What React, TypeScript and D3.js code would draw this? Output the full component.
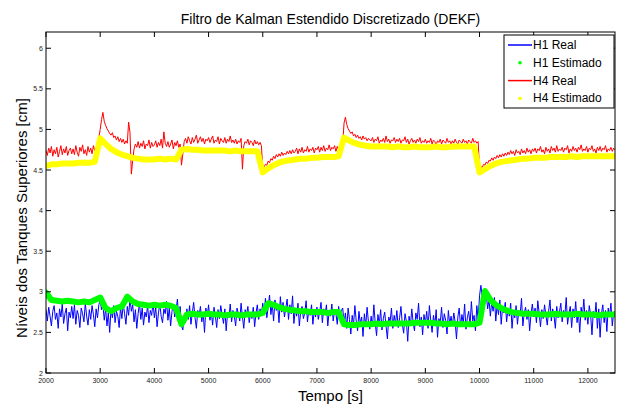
import React from "react";
import * as d3 from "d3";

// time axis: samples start at 2000 s
const T0 = 2000;
const realStep = 25;
const estStep = 100;

// H1 real level, one reading every 25 s
const h1Real = [
  2.78, 2.64, 2.81, 2.70, 2.58, 2.76, 2.83, 2.66, 2.74, 2.55, 2.79, 2.69, 2.85, 2.61, 2.73, 2.80, 2.52, 2.75, 2.68, 2.82,
  2.67, 2.84, 2.60, 2.77, 2.71, 2.56, 2.80, 2.73, 2.63, 2.86, 2.70, 2.59, 2.78, 2.66, 2.83, 2.72, 2.57, 2.79, 2.68, 2.84,
  2.90, 2.78, 2.84, 2.65, 2.80, 2.58, 2.74, 2.50, 2.79, 2.68, 2.83, 2.62, 2.76, 2.70, 2.56, 2.81, 2.67, 2.85, 2.73, 2.60,
  2.82, 2.71, 2.92, 2.76, 2.84, 2.63, 2.78, 2.55, 2.73, 2.86, 2.66, 2.80, 2.59, 2.75, 2.69, 2.83, 2.62, 2.77, 2.71, 2.87,
  2.68, 2.81, 2.57, 2.74, 2.85, 2.70, 2.62, 2.79, 2.73, 2.88, 2.65, 2.80, 2.58, 2.76, 2.84, 2.69, 2.77, 2.91, 2.64, 2.82,
  2.58, 2.53, 2.70, 2.62, 2.79, 2.66, 2.83, 2.60, 2.74, 2.87, 2.68, 2.55, 2.77, 2.71, 2.82, 2.63, 2.75, 2.50, 2.80, 2.69,
  2.84, 2.65, 2.76, 2.59, 2.81, 2.70, 2.56, 2.78, 2.67, 2.83, 2.72, 2.61, 2.79, 2.52, 2.74, 2.68, 2.85, 2.63, 2.77, 2.70,
  2.58, 2.80, 2.73, 2.64, 2.86, 2.69, 2.55, 2.78, 2.71, 2.82, 2.62, 2.75, 2.67, 2.81, 2.57, 2.74, 2.84, 2.66, 2.79, 2.72,
  2.86, 2.74, 2.92, 2.68, 2.81, 2.96, 2.72, 2.85, 2.64, 2.90, 2.77, 2.83, 2.62, 2.94, 2.75, 2.87, 2.69, 2.80, 2.91, 2.66,
  2.84, 2.73, 2.95, 2.61, 2.79, 2.70, 2.86, 2.58, 2.76, 2.82, 2.67, 2.74, 2.89, 2.63, 2.78, 2.71, 2.84, 2.60, 2.77, 2.69,
  2.81, 2.66, 2.75, 2.87, 2.62, 2.79, 2.72, 2.84, 2.58, 2.76, 2.70, 2.85, 2.64, 2.78, 2.73, 2.60, 2.82, 2.69, 2.77, 2.80,
  2.62, 2.74, 2.55, 2.80, 2.66, 2.48, 2.71, 2.59, 2.83, 2.64, 2.52, 2.76, 2.61, 2.69, 2.45, 2.73, 2.58, 2.81, 2.63, 2.54,
  2.70, 2.57, 2.84, 2.62, 2.46, 2.72, 2.60, 2.78, 2.53, 2.67, 2.75, 2.58, 2.42, 2.69, 2.63, 2.80, 2.55, 2.71, 2.61, 2.77,
  2.56, 2.68, 2.82, 2.60, 2.49, 2.73, 2.64, 2.39, 2.70, 2.58, 2.79, 2.62, 2.52, 2.74, 2.66, 2.86, 2.57, 2.69, 2.47, 2.72,
  2.61, 2.76, 2.55, 2.83, 2.64, 2.50, 2.71, 2.59, 2.78, 2.44, 2.67, 2.62, 2.81, 2.56, 2.73, 2.65, 2.48, 2.77, 2.60, 2.70,
  2.58, 2.74, 2.63, 2.42, 2.69, 2.80, 2.57, 2.72, 2.61, 2.85, 2.54, 2.68, 2.76, 2.59, 2.88, 2.64, 2.71, 2.52, 2.83, 2.66,
  2.95, 3.08, 2.94, 3.02, 2.86, 2.97, 2.79, 2.91, 2.70, 2.88, 2.76, 2.93, 2.64, 2.84, 2.72, 2.90, 2.60, 2.81, 2.74, 2.87,
  2.63, 2.79, 2.70, 2.86, 2.55, 2.75, 2.68, 2.83, 2.60, 2.77, 2.72, 2.92, 2.58, 2.74, 2.81, 2.66, 2.78, 2.52, 2.73, 2.85,
  2.69, 2.80, 2.62, 2.89, 2.74, 2.57, 2.78, 2.67, 2.84, 2.71, 2.59, 2.76, 2.90, 2.64, 2.79, 2.70, 2.55, 2.82, 2.68, 2.75,
  2.86, 2.63, 2.77, 2.71, 2.93, 2.60, 2.74, 2.82, 2.56, 2.79, 2.68, 2.88, 2.62, 2.75, 2.50, 2.81, 2.70, 2.91, 2.65, 2.77,
  2.60, 2.83, 2.72, 2.47, 2.76, 2.68, 2.87, 2.55, 2.79, 2.44, 2.73, 2.84, 2.62, 2.77, 2.51, 2.80, 2.69, 2.86, 2.58, 2.74,
  2.76,
];

// H1 estimate, every 100 s
const h1Est = [
  2.99, 2.90, 2.89, 2.88, 2.89, 2.88, 2.87, 2.88, 2.87, 2.90,
  2.93, 2.80, 2.76, 2.80, 2.82, 2.94, 2.88, 2.85, 2.84, 2.83,
  2.84, 2.83, 2.84, 2.83, 2.80, 2.60, 2.72, 2.73, 2.72, 2.72,
  2.73, 2.72, 2.72, 2.71, 2.72, 2.72, 2.71, 2.72, 2.72, 2.72,
  2.74, 2.86, 2.84, 2.81, 2.79, 2.78, 2.77, 2.76, 2.76, 2.75,
  2.75, 2.75, 2.74, 2.75, 2.75, 2.60, 2.59, 2.59, 2.60, 2.60,
  2.60, 2.61, 2.60, 2.61, 2.61, 2.61, 2.61, 2.61, 2.62, 2.62,
  2.62, 2.62, 2.61, 2.61, 2.60, 2.61, 2.60, 2.60, 2.60, 2.60,
  2.62, 3.01, 2.90, 2.84, 2.80, 2.77, 2.75, 2.74, 2.73, 2.73,
  2.73, 2.72, 2.72, 2.72, 2.73, 2.72, 2.72, 2.72, 2.73, 2.72,
  2.72, 2.72, 2.71, 2.72, 2.72, 2.72,
];

// H4 real level, every 25 s
const h4Real = [
  4.74, 4.68, 4.77, 4.71, 4.79, 4.67, 4.75, 4.70, 4.78, 4.66, 4.73, 4.80, 4.69, 4.76, 4.71, 4.79, 4.68, 4.74, 4.77, 4.70,
  4.76, 4.69, 4.80, 4.72, 4.67, 4.78, 4.73, 4.81, 4.70, 4.75, 4.68, 4.79, 4.72, 4.77, 4.70, 4.80, 4.74, 4.69, 4.84, 4.90,
  5.00, 5.12, 5.21, 5.10, 5.05, 5.01, 4.98, 4.95, 4.93, 4.96, 4.90, 4.92, 4.87, 4.91, 4.85, 4.89, 4.84, 4.88, 4.82, 4.86,
  4.83, 5.09, 4.96, 4.45, 4.62, 4.76, 4.82, 4.78, 4.85, 4.77, 4.83, 4.79, 4.86, 4.76, 4.82, 4.80, 4.87, 4.77, 4.84, 4.79,
  4.81, 4.86, 4.78, 4.84, 4.80, 4.88, 4.77, 4.97, 4.83, 4.79, 4.85, 4.78, 4.82, 4.87, 4.76, 4.84, 4.80, 4.86, 4.78, 4.82,
  4.56, 4.70, 4.85, 4.89, 4.83, 4.91, 4.86, 4.82, 4.90, 4.84, 4.88, 4.93, 4.83, 4.87, 4.91, 4.85, 4.89, 4.82, 4.88, 4.86,
  4.90, 4.84, 4.88, 4.92, 4.83, 4.87, 4.85, 4.91, 4.82, 4.89, 4.86, 4.84, 4.90, 4.83, 4.88, 4.85, 4.92, 4.84, 4.87, 4.83,
  4.88, 4.82, 4.86, 4.84, 4.89, 4.51, 4.80, 4.85, 4.83, 4.88, 4.81, 4.86, 4.84, 4.80, 4.87, 4.82, 4.85, 4.81, 4.84, 4.80,
  4.52, 4.54, 4.57, 4.56, 4.61, 4.59, 4.64, 4.62, 4.67, 4.64, 4.69, 4.66, 4.70, 4.67, 4.72, 4.68, 4.71, 4.69, 4.73, 4.70,
  4.74, 4.70, 4.75, 4.71, 4.73, 4.77, 4.70, 4.76, 4.72, 4.78, 4.71, 4.75, 4.73, 4.79, 4.72, 4.76, 4.74, 4.78, 4.71, 4.77,
  4.75, 4.79, 4.72, 4.78, 4.74, 4.80, 4.73, 4.77, 4.75, 4.81, 4.74, 4.78, 4.76, 4.80, 4.73, 4.79, 4.75, 4.78, 4.77, 4.82,
  5.08, 5.15, 5.06, 5.01, 4.98, 4.95, 4.97, 4.92, 4.94, 4.90, 4.93, 4.89, 4.91, 4.87, 4.92, 4.88, 4.90, 4.86, 4.89, 4.87,
  4.86, 4.90, 4.84, 4.88, 4.86, 4.91, 4.83, 4.87, 4.85, 4.89, 4.84, 4.92, 4.85, 4.88, 4.83, 4.87, 4.86, 4.90, 4.84, 4.88,
  4.85, 4.89, 4.83, 4.87, 4.86, 4.91, 4.84, 4.88, 4.82, 4.86, 4.89, 4.84, 4.87, 4.83, 4.88, 4.85, 4.90, 4.83, 4.86, 4.84,
  4.88, 4.83, 4.86, 4.84, 4.89, 4.82, 4.87, 4.85, 4.81, 4.86, 4.84, 4.88, 4.82, 4.87, 4.85, 4.83, 4.89, 4.84, 4.86, 4.82,
  4.86, 4.83, 4.88, 4.84, 4.82, 4.87, 4.85, 4.83, 4.88, 4.84, 4.86, 4.82, 4.87, 4.85, 4.83, 4.89, 4.84, 4.86, 4.83, 4.85,
  4.52, 4.54, 4.53, 4.57, 4.56, 4.60, 4.58, 4.62, 4.61, 4.65, 4.62, 4.66, 4.64, 4.68, 4.65, 4.69, 4.66, 4.70, 4.67, 4.71,
  4.68, 4.72, 4.69, 4.74, 4.70, 4.73, 4.68, 4.75, 4.71, 4.73, 4.69, 4.76, 4.71, 4.74, 4.70, 4.77, 4.72, 4.75, 4.70, 4.76,
  4.73, 4.77, 4.71, 4.76, 4.74, 4.79, 4.72, 4.75, 4.70, 4.78, 4.73, 4.76, 4.71, 4.79, 4.74, 4.77, 4.72, 4.80, 4.73, 4.76,
  4.74, 4.78, 4.72, 4.77, 4.75, 4.80, 4.71, 4.76, 4.73, 4.79, 4.74, 4.77, 4.72, 4.78, 4.75, 4.81, 4.73, 4.76, 4.74, 4.79,
  4.72, 4.77, 4.75, 4.80, 4.73, 4.76, 4.71, 4.78, 4.74, 4.79, 4.73, 4.77, 4.75, 4.80, 4.72, 4.76, 4.74, 4.78, 4.73, 4.77,
  4.75,
];

// H4 estimate, every 100 s
const h4Est = [
  4.55, 4.57, 4.57, 4.58, 4.58, 4.58, 4.59, 4.59, 4.59, 4.60,
  4.89, 4.82, 4.76, 4.72, 4.69, 4.67, 4.65, 4.64, 4.63, 4.63,
  4.63, 4.64, 4.63, 4.64, 4.63, 4.75, 4.76, 4.75, 4.75, 4.74,
  4.74, 4.74, 4.74, 4.74, 4.73, 4.74, 4.73, 4.73, 4.73, 4.73,
  4.47, 4.52, 4.56, 4.59, 4.61, 4.62, 4.63, 4.64, 4.64, 4.65,
  4.65, 4.66, 4.66, 4.66, 4.67, 4.90, 4.86, 4.83, 4.81, 4.80,
  4.79, 4.79, 4.79, 4.79, 4.78, 4.79, 4.78, 4.78, 4.79, 4.78,
  4.78, 4.78, 4.79, 4.78, 4.78, 4.79, 4.79, 4.79, 4.79, 4.79,
  4.47, 4.51, 4.55, 4.58, 4.60, 4.61, 4.62, 4.63, 4.64, 4.64,
  4.65, 4.65, 4.65, 4.66, 4.66, 4.66, 4.66, 4.67, 4.66, 4.67,
  4.67, 4.67, 4.67, 4.67, 4.67, 4.67,
];

const xTicks = [2000, 3000, 4000, 5000, 6000, 7000, 8000, 9000, 10000, 11000, 12000];
const yTicks = [2, 2.5, 3, 3.5, 4, 4.5, 5, 5.5, 6];
const legendNames = ["H1 Real", "H1 Estimado", "H4 Real", "H4 Estimado"];

const W = 620;
const H = 406;
const box = { left: 46, right: 615, top: 32, bottom: 373 };
const font = "'Liberation Sans', Arial, sans-serif";

export default function App() {
  const x = d3.scaleLinear().domain([2000, 12500]).range([box.left, box.right]);
  const y = d3.scaleLinear().domain([2, 6.2]).range([box.bottom, box.top]);

  const mkLine = (step: number) =>
    d3
      .line<number>()
      .x((d, i) => x(T0 + i * step))
      .y((d) => y(d));

  const series = [
    { name: legendNames[0], data: h1Real, step: realStep, color: "#0000ff", w: 1, est: false },
    { name: legendNames[1], data: h1Est, step: estStep, color: "#00ff00", w: 6, est: true },
    { name: legendNames[2], data: h4Real, step: realStep, color: "#ff0000", w: 1, est: false },
    { name: legendNames[3], data: h4Est, step: estStep, color: "#ffff00", w: 6, est: true },
  ];

  const tk = 5;
  const lg = { x: 504, y: 35, w: 110, h: 73 };

  return (
    <svg
      width={W}
      height={H}
      style={{ position: "absolute", left: 0, top: 0, background: "#fff" }}
      fontFamily={font}
    >
      <rect x={0} y={0} width={W} height={H} fill="#fff" />
      <defs>
        <clipPath id="plot">
          <rect x={box.left} y={box.top} width={box.right - box.left} height={box.bottom - box.top} />
        </clipPath>
      </defs>

      <g clipPath="url(#plot)">
        {series.map((s) => (
          <path
            key={s.name}
            d={mkLine(s.step)(s.data) || ""}
            fill="none"
            stroke={s.color}
            strokeWidth={s.w}
            strokeLinejoin="round"
            strokeLinecap="round"
          />
        ))}
      </g>

      {/* axes box and ticks */}
      <rect
        x={box.left}
        y={box.top}
        width={box.right - box.left}
        height={box.bottom - box.top}
        fill="none"
        stroke="#000"
        strokeWidth={1}
      />
      {xTicks.map((t) => (
        <g key={"x" + t}>
          <line x1={x(t)} x2={x(t)} y1={box.bottom} y2={box.bottom - tk} stroke="#000" />
          <line x1={x(t)} x2={x(t)} y1={box.top} y2={box.top + tk} stroke="#000" />
          <text x={x(t)} y={box.bottom + 10} fontSize={7} textAnchor="middle" fill="#222">
            {t}
          </text>
        </g>
      ))}
      {yTicks.map((t) => (
        <g key={"y" + t}>
          <line x1={box.left} x2={box.left + tk} y1={y(t)} y2={y(t)} stroke="#000" />
          <line x1={box.right} x2={box.right - tk} y1={y(t)} y2={y(t)} stroke="#000" />
          <text x={box.left - 3} y={y(t) + 2.5} fontSize={7} textAnchor="end" fill="#222">
            {t}
          </text>
        </g>
      ))}

      <text x={(box.left + box.right) / 2} y={24} fontSize={14} textAnchor="middle" fill="#000">
        Filtro de Kalman Estendido Discretizado (DEKF)
      </text>
      <text x={(box.left + box.right) / 2} y={401} fontSize={15} textAnchor="middle" fill="#000">
        Tempo [s]
      </text>
      <text
        transform={`translate(27, 218) rotate(-90)`}
        fontSize={15}
        textAnchor="middle"
        fill="#000"
      >
        Níveis dos Tanques Superiores [cm]
      </text>

      {/* legend */}
      <rect x={lg.x} y={lg.y} width={lg.w} height={lg.h} fill="#fff" stroke="#000" />
      {series.map((s, i) => {
        const cy = lg.y + 10 + i * 17.8;
        return (
          <g key={"lg" + s.name}>
            {s.est ? (
              <circle cx={lg.x + 16} cy={cy} r={1.8} fill={s.color} />
            ) : (
              <line x1={lg.x + 4} x2={lg.x + 28} y1={cy} y2={cy} stroke={s.color} strokeWidth={1.5} />
            )}
            <text x={lg.x + 29} y={cy + 4} fontSize={12} fill="#000">
              {s.name}
            </text>
          </g>
        );
      })}
    </svg>
  );
}
